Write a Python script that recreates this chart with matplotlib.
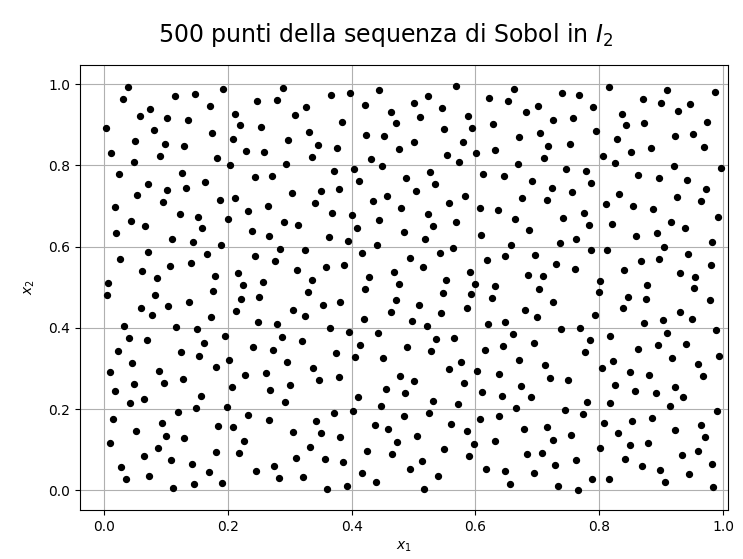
import numpy as np
import matplotlib
matplotlib.use("Agg")
import matplotlib.pyplot as plt

# Sobol points in the unit square, grouped in horizontal bands (top to bottom)
band_1 = [
    (0.038, 0.994), (0.030, 0.964), (0.114, 0.970), (0.147, 0.976), (0.193, 0.988), (0.171, 0.946),
    (0.075, 0.938), (0.058, 0.923), (0.102, 0.917), (0.136, 0.911), (0.003, 0.893), (0.081, 0.887),
    (0.174, 0.881), (0.050, 0.860), (0.098, 0.854), (0.130, 0.848), (0.012, 0.830), (0.091, 0.824),
    (0.182, 0.818), (0.048, 0.809), (0.204, 0.800), (0.024, 0.780), (0.126, 0.782), (0.163, 0.760),
    (0.071, 0.754), (0.212, 0.928), (0.219, 0.899), (0.208, 0.866), (0.230, 0.836), (0.259, 0.832),
    (0.247, 0.959), (0.280, 0.961), (0.289, 0.991), (0.308, 0.925), (0.253, 0.896), (0.298, 0.863),
    (0.294, 0.803), (0.244, 0.771), (0.271, 0.774),
    (0.366, 0.973), (0.398, 0.979), (0.445, 0.985), (0.568, 0.997), (0.327, 0.943), (0.422, 0.949),
    (0.500, 0.955), (0.523, 0.970), (0.546, 0.941), (0.464, 0.932), (0.511, 0.919), (0.588, 0.923),
    (0.384, 0.908), (0.472, 0.905), (0.331, 0.883), (0.423, 0.875), (0.453, 0.872), (0.549, 0.891),
    (0.595, 0.892), (0.345, 0.850), (0.376, 0.843), (0.476, 0.840), (0.500, 0.857), (0.580, 0.859),
    (0.336, 0.821), (0.431, 0.815), (0.449, 0.798), (0.554, 0.827), (0.574, 0.809), (0.601, 0.830),
    (0.372, 0.786), (0.404, 0.791), (0.412, 0.762), (0.488, 0.768), (0.527, 0.783), (0.535, 0.754),
    (0.622, 0.967), (0.629, 0.902), (0.632, 0.839), (0.613, 0.780), (0.646, 0.775),
    (0.662, 0.988), (0.653, 0.959), (0.681, 0.932), (0.701, 0.946), (0.740, 0.979), (0.768, 0.973),
    (0.790, 0.944), (0.726, 0.911), (0.758, 0.917), (0.795, 0.886), (0.705, 0.881), (0.671, 0.869),
    (0.718, 0.848), (0.752, 0.854), (0.711, 0.818), (0.668, 0.803), (0.746, 0.791), (0.779, 0.786),
    (0.691, 0.762), (0.787, 0.758), (0.816, 0.994), (0.909, 0.985), (0.987, 0.982), (0.871, 0.964),
    (0.900, 0.955), (0.947, 0.952), (0.836, 0.928), (0.928, 0.935), (0.844, 0.899), (0.873, 0.904),
    (0.974, 0.908), (0.828, 0.866), (0.922, 0.872), (0.951, 0.877), (0.883, 0.842), (0.969, 0.845),
    (0.806, 0.824), (0.851, 0.832), (0.826, 0.806), (0.920, 0.798), (0.996, 0.795), (0.863, 0.777),
    (0.896, 0.768), (0.941, 0.764),
]

band_2 = [
    (0.102, 0.740), (0.132, 0.745), (0.053, 0.728), (0.017, 0.697), (0.095, 0.710), (0.187, 0.716),
    (0.122, 0.680), (0.152, 0.674), (0.044, 0.663), (0.067, 0.651), (0.159, 0.645), (0.201, 0.669),
    (0.020, 0.633), (0.110, 0.619), (0.144, 0.611), (0.189, 0.605), (0.212, 0.719), (0.233, 0.689),
    (0.265, 0.701), (0.304, 0.732), (0.239, 0.639), (0.266, 0.627), (0.290, 0.660), (0.313, 0.654),
    (0.026, 0.570), (0.071, 0.587), (0.167, 0.582), (0.107, 0.552), (0.140, 0.561), (0.062, 0.540),
    (0.085, 0.523), (0.179, 0.528), (0.007, 0.510), (0.176, 0.492), (0.082, 0.482), (0.005, 0.482),
    (0.244, 0.576), (0.284, 0.594), (0.276, 0.564), (0.311, 0.543), (0.216, 0.534), (0.224, 0.505),
    (0.257, 0.513),
    (0.350, 0.738), (0.380, 0.743), (0.341, 0.708), (0.368, 0.683), (0.400, 0.677), (0.363, 0.623),
    (0.394, 0.614), (0.435, 0.713), (0.457, 0.725), (0.504, 0.737), (0.480, 0.695), (0.445, 0.665),
    (0.408, 0.647), (0.523, 0.680), (0.558, 0.707), (0.583, 0.724), (0.531, 0.651), (0.569, 0.660),
    (0.484, 0.635), (0.519, 0.618), (0.441, 0.603), (0.324, 0.591), (0.359, 0.550), (0.388, 0.555),
    (0.336, 0.518), (0.329, 0.488), (0.417, 0.584), (0.495, 0.573), (0.543, 0.585), (0.564, 0.597),
    (0.515, 0.550), (0.428, 0.525), (0.469, 0.537), (0.476, 0.507), (0.422, 0.496), (0.552, 0.519),
    (0.547, 0.487), (0.592, 0.537), (0.599, 0.507), (0.593, 0.484), (0.607, 0.695), (0.637, 0.690),
    (0.609, 0.629), (0.619, 0.567), (0.647, 0.576), (0.631, 0.502),
    (0.723, 0.745), (0.756, 0.734), (0.676, 0.719), (0.715, 0.716), (0.664, 0.668), (0.687, 0.642),
    (0.742, 0.671), (0.775, 0.683), (0.783, 0.653), (0.763, 0.620), (0.736, 0.608), (0.658, 0.605),
    (0.697, 0.579), (0.730, 0.558), (0.761, 0.546), (0.685, 0.531), (0.709, 0.528), (0.703, 0.495),
    (0.787, 0.591), (0.801, 0.516), (0.799, 0.489), (0.832, 0.731), (0.811, 0.705), (0.855, 0.701),
    (0.887, 0.692), (0.926, 0.722), (0.973, 0.742), (0.965, 0.713), (0.992, 0.674), (0.820, 0.656),
    (0.916, 0.662), (0.938, 0.645), (0.859, 0.627), (0.893, 0.633), (0.904, 0.599), (0.982, 0.612),
    (0.812, 0.593), (0.943, 0.582), (0.867, 0.564), (0.896, 0.570), (0.981, 0.555), (0.840, 0.543),
    (0.931, 0.534), (0.955, 0.526), (0.877, 0.505), (0.953, 0.499),
]

band_3 = [
    (0.060, 0.450), (0.104, 0.454), (0.138, 0.463), (0.078, 0.432), (0.173, 0.426), (0.032, 0.405),
    (0.116, 0.403), (0.150, 0.397), (0.195, 0.381), (0.040, 0.376), (0.069, 0.370), (0.161, 0.363),
    (0.022, 0.343), (0.124, 0.340), (0.153, 0.331), (0.046, 0.313), (0.202, 0.322), (0.010, 0.292),
    (0.089, 0.295), (0.181, 0.304), (0.048, 0.263), (0.097, 0.265), (0.128, 0.275), (0.018, 0.244),
    (0.065, 0.224), (0.157, 0.233), (0.206, 0.254), (0.222, 0.471), (0.251, 0.477), (0.214, 0.441),
    (0.306, 0.445), (0.249, 0.414), (0.279, 0.409), (0.287, 0.378), (0.241, 0.352), (0.273, 0.346),
    (0.296, 0.316), (0.228, 0.283), (0.261, 0.289), (0.300, 0.259), (0.268, 0.247),
    (0.353, 0.456), (0.382, 0.465), (0.325, 0.429), (0.365, 0.400), (0.396, 0.391), (0.320, 0.368),
    (0.374, 0.337), (0.337, 0.301), (0.347, 0.272), (0.379, 0.278), (0.471, 0.468), (0.509, 0.456),
    (0.463, 0.439), (0.420, 0.421), (0.497, 0.418), (0.521, 0.405), (0.545, 0.436), (0.586, 0.450),
    (0.626, 0.474), (0.621, 0.409), (0.647, 0.415), (0.443, 0.387), (0.414, 0.358), (0.406, 0.328),
    (0.451, 0.326), (0.490, 0.354), (0.537, 0.372), (0.566, 0.376), (0.529, 0.343), (0.576, 0.316),
    (0.557, 0.299), (0.478, 0.281), (0.501, 0.268), (0.455, 0.250), (0.486, 0.239), (0.410, 0.230),
    (0.581, 0.265), (0.615, 0.346), (0.644, 0.355), (0.603, 0.295), (0.638, 0.286), (0.611, 0.241),
    (0.643, 0.233),
    (0.680, 0.445), (0.699, 0.426), (0.725, 0.463), (0.793, 0.432), (0.738, 0.397), (0.769, 0.400),
    (0.660, 0.384), (0.694, 0.363), (0.785, 0.370), (0.777, 0.340), (0.670, 0.322), (0.712, 0.308),
    (0.721, 0.277), (0.750, 0.271), (0.673, 0.257), (0.689, 0.231), (0.846, 0.476), (0.875, 0.471),
    (0.838, 0.448), (0.979, 0.468), (0.930, 0.439), (0.950, 0.423), (0.903, 0.420), (0.873, 0.411),
    (0.989, 0.394), (0.818, 0.381), (0.910, 0.387), (0.862, 0.349), (0.895, 0.358), (0.940, 0.361),
    (0.994, 0.331), (0.918, 0.327), (0.822, 0.318), (0.805, 0.301), (0.850, 0.292), (0.881, 0.283),
    (0.959, 0.310), (0.967, 0.281), (0.826, 0.259), (0.922, 0.254), (0.858, 0.244), (0.891, 0.239),
    (0.936, 0.229),
]

band_4 = [
    (0.042, 0.214), (0.015, 0.176), (0.120, 0.194), (0.149, 0.203), (0.198, 0.206), (0.093, 0.166),
    (0.052, 0.146), (0.100, 0.134), (0.130, 0.128), (0.184, 0.158), (0.009, 0.116), (0.087, 0.103),
    (0.064, 0.084), (0.108, 0.075), (0.142, 0.066), (0.181, 0.095), (0.028, 0.057), (0.036, 0.027),
    (0.073, 0.035), (0.169, 0.044), (0.112, 0.006), (0.145, 0.015), (0.190, 0.018), (0.232, 0.185),
    (0.266, 0.172), (0.292, 0.217), (0.208, 0.155), (0.306, 0.143), (0.226, 0.122), (0.218, 0.093),
    (0.310, 0.080), (0.245, 0.048), (0.274, 0.060), (0.282, 0.030),
    (0.447, 0.208), (0.532, 0.220), (0.572, 0.212), (0.371, 0.191), (0.402, 0.196), (0.343, 0.170),
    (0.351, 0.140), (0.382, 0.131), (0.333, 0.107), (0.357, 0.077), (0.386, 0.069), (0.322, 0.033),
    (0.361, 0.003), (0.392, 0.011), (0.437, 0.161), (0.458, 0.152), (0.484, 0.182), (0.525, 0.191),
    (0.505, 0.134), (0.474, 0.119), (0.425, 0.098), (0.466, 0.089), (0.560, 0.164), (0.586, 0.146),
    (0.597, 0.113), (0.550, 0.102), (0.589, 0.084), (0.513, 0.071), (0.494, 0.053), (0.416, 0.042),
    (0.439, 0.021), (0.540, 0.035), (0.517, 0.003), (0.607, 0.175), (0.638, 0.182), (0.631, 0.122),
    (0.617, 0.053), (0.647, 0.048),
    (0.666, 0.203), (0.744, 0.199), (0.781, 0.217), (0.773, 0.188), (0.818, 0.214), (0.914, 0.208),
    (0.990, 0.196), (0.678, 0.152), (0.716, 0.155), (0.725, 0.125), (0.754, 0.137), (0.808, 0.167),
    (0.853, 0.170), (0.885, 0.179), (0.830, 0.140), (0.923, 0.148), (0.964, 0.161), (0.971, 0.131),
    (0.683, 0.089), (0.707, 0.093), (0.763, 0.075), (0.728, 0.062), (0.802, 0.104), (0.850, 0.111),
    (0.879, 0.116), (0.842, 0.077), (0.933, 0.087), (0.959, 0.098), (0.695, 0.042), (0.656, 0.016),
    (0.734, 0.011), (0.765, 0.001), (0.789, 0.029), (0.815, 0.027), (0.869, 0.059), (0.898, 0.050),
    (0.907, 0.020), (0.945, 0.039), (0.982, 0.066), (0.984, 0.009),
]

pts = np.array(band_1 + band_2 + band_3 + band_4)

fig = plt.figure(figsize=(7.43, 5.59), dpi=100)
ax = fig.add_axes([80 / 743, 49 / 559, 648 / 743, 445 / 559])

ax.scatter(pts[:, 0], pts[:, 1], s=18, c="k", zorder=3)

ax.set_xlim(-0.0388, 1.008)
ax.set_ylim(-0.0485, 1.0475)
ax.set_xticks(np.arange(0, 1.01, 0.2))
ax.set_yticks(np.arange(0, 1.01, 0.2))
ax.grid(True)
ax.set_axisbelow(True)

ax.set_xlabel("$x_1$")
ax.set_ylabel("$x_2$", labelpad=8)
fig.text(386 / 743, 1 - 35 / 559, "500 punti della sequenza di Sobol in $I_2$",
         fontsize=17, ha="center", va="center")

fig.savefig("out.png", dpi=100)
